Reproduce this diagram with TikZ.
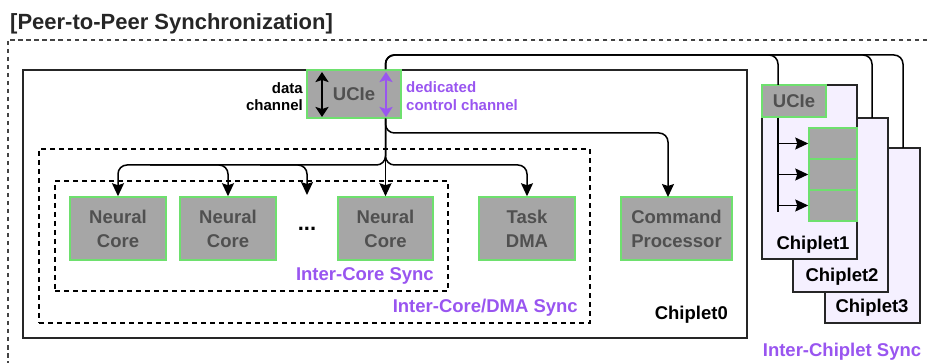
\documentclass[tikz,border=0pt]{standalone}
\usepackage{fontspec}
\setmainfont{Liberation Sans}
\usetikzlibrary{arrows.meta}
\definecolor{pur}{HTML}{9955F0}
\definecolor{grn}{HTML}{6EE06E}
\definecolor{gfill}{HTML}{A6A6A6}
\definecolor{gtext}{HTML}{505050}
\definecolor{lav}{HTML}{F5F0FF}
\definecolor{outerc}{HTML}{444444}
\newcommand\fbig{\fontsize{18.5}{24}\selectfont\bfseries}
\newcommand\fsmall{\fontsize{15}{17.5}\selectfont\bfseries}
\newcommand\ftitle{\fontsize{22}{26}\selectfont\bfseries}
\begin{document}
\begin{tikzpicture}[x=1pt,y=-1pt,
  blk/.style={draw=grn, line width=1.5pt, fill=gfill, text=gtext, font=\fbig, align=center, inner sep=0pt},
  chip/.style={draw=black!85, line width=1.4pt, fill=lav, inner sep=0pt},
  lbl/.style={inner sep=0pt, font=\fbig},
  plbl/.style={inner sep=0pt, font=\fbig, text=pur},
  conn/.style={line width=1.5pt, rounded corners=9pt},
  arr/.style={conn, -{Stealth[length=13pt,width=12pt,inset=2pt]}},
  dbl/.style={line width=2.2pt, {Stealth[length=10pt,width=13pt,inset=2pt]}-{Stealth[length=10pt,width=13pt,inset=2pt]}},
  dsh/.style={draw=black, line width=1.3pt, dash pattern=on 5pt off 4pt, inner sep=0pt}]
\useasboundingbox (0,0) rectangle (927,363);

% title and outer region
\node[anchor=base west, inner sep=0pt, font=\ftitle, text=black!85] (title) at (10,30) {[Peer-to-Peer Synchronization]};
\draw[outerc, line width=1.3pt, dash pattern=on 4.5pt off 3.5pt] (927,40) -- (8,40) -- (8,363);

% Chiplet0
\node[draw=black!85, line width=1.4pt, minimum width=724pt, minimum height=268pt, inner sep=0pt] (c0) at (385,204) {};
\node[dsh, minimum width=551pt, minimum height=174pt] (icd) at (314.5,236) {};
\node[dsh, minimum width=393pt, minimum height=110pt] (ic) at (251.5,236) {};

\node[blk, minimum width=94pt, minimum height=48pt] (uc0) at (354,94) {UCIe};
\node[blk, minimum width=96pt, minimum height=63pt] (nc1) at (118,228.5) {Neural\\Core};
\node[blk, minimum width=96pt, minimum height=63pt] (nc2) at (228,228.5) {Neural\\Core};
\node[blk, minimum width=95pt, minimum height=63pt] (nc3) at (385.5,228.5) {Neural\\Core};
\node[blk, minimum width=96pt, minimum height=63pt] (dma) at (527,228.5) {Task\\DMA};
\node[blk, minimum width=111pt, minimum height=63pt] (cp) at (676.5,228.5) {Command\\Processor};
\node[lbl, anchor=base, font=\fontsize{22}{24}\selectfont\bfseries] (dots) at (307,231) {...};

\node[inner sep=0pt, font=\fsmall, align=right, anchor=east] (dch) at (303,96.5) {data\\channel};
\node[inner sep=0pt, font=\fsmall, align=left, anchor=west, text=pur] (cch) at (406,96) {dedicated\\control channel};
\node[plbl, anchor=base east] (icl) at (434,281) {Inter-Core Sync};
\node[plbl, anchor=base east] (icdl) at (578,313) {Inter-Core/DMA Sync};
\node[lbl, anchor=base east] (c0l) at (728,320) {Chiplet0};

% UCIe channel arrows
\coordinate (da1) at (322,72);
\coordinate (da2) at (322,117);
\coordinate (pa1) at (386,72);
\coordinate (pa2) at (386,117);
\draw[dbl] (da1) -- (da2);
\draw[dbl, pur] (pa1) -- (pa2);

% other chiplets
\node[chip, minimum width=95pt, minimum height=175pt] (ch3) at (872.5,235.5) {};
\node[chip, minimum width=95pt, minimum height=174pt] (ch2) at (840.5,205) {};
\node[chip, minimum width=95pt, minimum height=174pt] (ch1) at (809.5,172) {};
\node[lbl, anchor=base] (ch3l) at (872,313) {Chiplet3};
\node[lbl, anchor=base] (ch2l) at (842,282) {Chiplet2};
\node[lbl, anchor=base] (ch1l) at (813,250) {Chiplet1};
\node[plbl, anchor=base] (icsl) at (842,357) {Inter-Chiplet Sync};

\node[blk, minimum width=64pt, minimum height=32pt] (uc1) at (794,101) {UCIe};
\node[blk, minimum width=48pt, minimum height=31pt] (b1) at (833,143.5) {};
\node[blk, minimum width=48pt, minimum height=31pt] (b2) at (833,174.5) {};
\node[blk, minimum width=48pt, minimum height=31pt] (b3) at (833,205.5) {};

% connectors to other chiplets
\coordinate (topy) at (0,55);
\coordinate (t1) at (778,85);
\coordinate (t2) at (872,118);
\coordinate (t3) at (903,148);
\draw[conn] (nc3.north |- uc0.north) |- (t3 |- topy) -- (t3);
\draw[conn] (nc3.north |- uc0.north) |- (t2 |- topy) -- (t2);
\draw[conn] (nc3.north |- uc0.north) |- (t1 |- topy) -- (t1);

% inside chiplet1
\coordinate (v1) at (778,212);
\draw[line width=1.5pt] (t1 |- uc1.south) -- (v1);
\draw[arr] (t1 |- b1.west) -- (b1.west);
\draw[arr] (t1 |- b2.west) -- (b2.west);
\draw[arr] (t1 |- b3.west) -- (b3.west);

% connectors inside chiplet0
\coordinate (y133) at (0,133);
\coordinate (y165) at (0,165);
\coordinate (cpin) at (668,197);
\coordinate (dotin) at (307,195);
\coordinate (h2) at (150,165);
\coordinate (h3) at (260,165);
\draw[arr] (nc3.north |- uc0.south) |- (cpin |- y133) -- (cpin);
\draw[arr] (nc3.north |- uc0.south) |- (nc1.north |- y165) -- (nc1.north);
\draw[arr] (nc3.north |- uc0.south) |- (dma.north |- y165) -- (dma.north);
\draw[arr] (h2) -| (nc2.north);
\draw[arr] (h3) -| (dotin);
\draw[arr] (nc3.north |- uc0.south) -- (nc3.north);
\end{tikzpicture}
\end{document}
